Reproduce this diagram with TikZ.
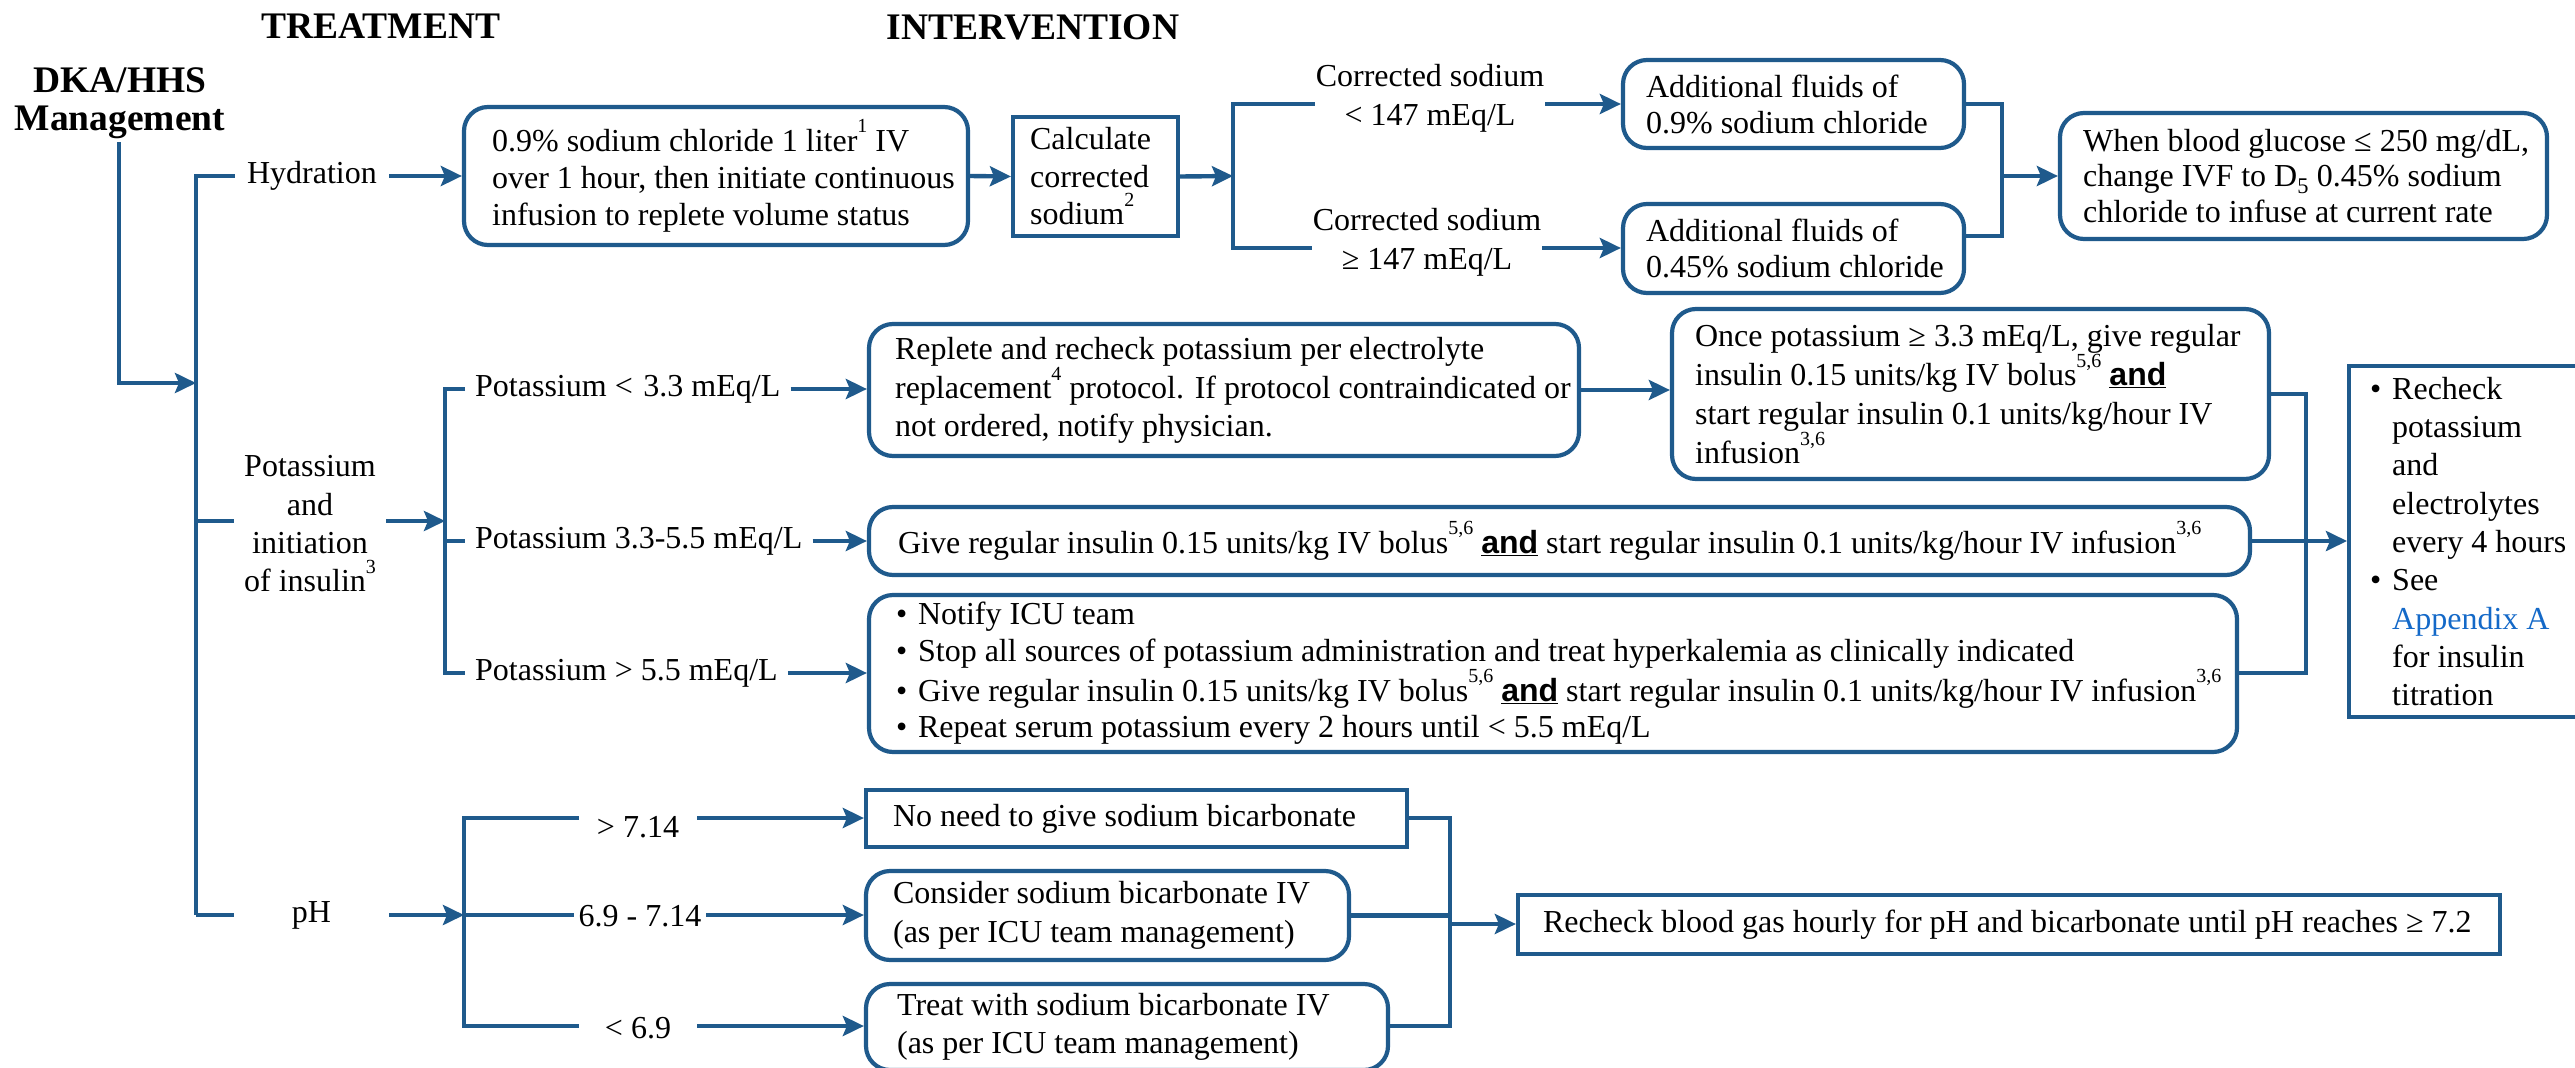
\documentclass[tikz,border=0pt]{standalone}
\usepackage{fontspec}
\setmainfont{Liberation Serif}
\setsansfont{Liberation Sans}
\usetikzlibrary{arrows.meta}
\definecolor{bl}{RGB}{31,90,140}
\definecolor{lk}{RGB}{20,105,200}
\newcommand\myfs{\fontsize{32}{37}\selectfont}
\newcommand\myhd{\fontsize{37.5}{38}\selectfont\bfseries}
\newcommand\myand{\underline{\sffamily\bfseries and}}
\newcommand\mysup[1]{\raisebox{0.58em}{\fontsize{20}{20}\selectfont #1}}
\newcommand\myb{\makebox[22pt][l]{•}}
\newcommand\myi{\hspace*{22pt}}
\begin{document}
\begin{tikzpicture}[x=1pt,y=-1pt,
 ln/.style={draw=bl,line width=4.4pt},
 arr/.style={draw=bl,line width=4.4pt,-{Stealth[length=21pt,width=20pt,inset=4pt]}},
 rbox/.style={draw=bl,line width=4.2pt,rounded corners=24pt,fill=white,inner sep=0pt},
 sbox/.style={draw=bl,line width=4.2pt,fill=white,inner sep=0pt},
 txt/.style={font=\myfs,inner sep=0pt,align=left,anchor=west},
 lbl/.style={font=\myfs,inner ysep=0pt,inner xsep=12pt,align=center},
 head/.style={font=\myhd,inner sep=0pt,align=center}]
\useasboundingbox (0,0) rectangle (2575,1068);
\begin{scope}
\clip (0,0) rectangle (2575,1068);
% headings
\node[head] (hT) at (381,26) {TREATMENT};
\node[head] (hI) at (1033,27) {INTERVENTION};
\node[head] (mg) at (120,103) {DKA/HHS\\Management};
% trunk
\coordinate (m0) at (119,142);
\coordinate (m1) at (196,383);
\coordinate (t1) at (196,176);
\coordinate (t2) at (196,521);
\coordinate (t3) at (196,915);
\draw[arr] (m0) |- (m1);
% ---------- hydration
\node[lbl] (lHyd) at (312,176) {Hydration};
\node[rbox,minimum width=504pt,minimum height=138pt] (hyd) at (716,176) {};
\node[txt] (thyd) at ([xshift=30pt]hyd.west) {0.9\% sodium chloride 1 liter\mysup{1} IV\\over 1 hour, then initiate continuous\\infusion to replete volume status};
\node[sbox,minimum width=165pt,minimum height=119pt] (calc) at (1095.5,176.5) {};
\node[txt,font={\fontsize{32}{37.5}\selectfont}] (tcalc) at ([xshift=19pt]calc.west) {Calculate\\corrected\\sodium\mysup{2}};
\coordinate (b1) at (1233,176);
\coordinate (b1t) at (1233,104);
\coordinate (b1b) at (1233,248);
\node[lbl,inner xsep=1pt,font={\fontsize{32}{39}\selectfont}] (lNa1) at (1430,98.5) {Corrected sodium\\< 147 mEq/L};
\node[lbl,inner xsep=1pt,font={\fontsize{32}{39}\selectfont}] (lNa2) at (1427,242) {Corrected sodium\\≥ 147 mEq/L};
\node[rbox,minimum width=341pt,minimum height=88pt] (s1) at (1793.5,104) {};
\node[txt,font={\fontsize{32}{36}\selectfont}] (ts1) at ([xshift=25pt]s1.west) {Additional fluids of\\0.9\% sodium chloride};
\node[rbox,minimum width=341pt,minimum height=89pt] (s2) at (1793.5,248.5) {};
\node[txt,font={\fontsize{32}{36}\selectfont}] (ts2) at ([xshift=25pt]s2.west) {Additional fluids of\\0.45\% sodium chloride};
\coordinate (j1) at (2002,176);
\coordinate (j1t) at (2002,104);
\coordinate (j1b) at (2002,236);
\node[rbox,minimum width=487pt,minimum height=126pt] (g) at (2303.5,176) {};
\node[txt,font={\fontsize{32}{35.5}\selectfont}] (tg) at ([xshift=25pt]g.west) {When blood glucose ≤ 250 mg/dL,\\change IVF to D\textsubscript{5} 0.45\% sodium\\chloride to infuse at current rate};
\draw[ln] (lHyd.west) -- (t1) -- (t3);
\draw[arr] (lHyd.east) -- (hyd.west);
\draw[arr] (hyd.east) -- (calc.west);
\draw[arr] (calc.east) -- (b1);
\draw[ln] (lNa1.west |- b1t) -- (b1t) -- (b1b) -- (lNa2.west |- b1b);
\draw[arr] (lNa1.east |- b1t) -- (s1.west);
\draw[arr] (lNa2.east |- b1b) -- (s2.west |- b1b);
\draw[ln] (s1.east) -- (j1t) -- (j1b) -- (s2.east |- j1b);
\draw[arr] (j1) -- (g.west);
% ---------- potassium
\node[lbl,inner xsep=10pt,font={\fontsize{32}{38.3}\selectfont}] (lK) at (310,524) {Potassium\\and\\initiation\\of insulin\mysup{3}};
\coordinate (b2) at (445,521);
\coordinate (b2t) at (445,389);
\coordinate (b2m) at (445,541);
\coordinate (b2b) at (445,673);
\node[lbl,inner xsep=10pt,anchor=west] (lK1) at (465,389) {Potassium <\,\,3.3 mEq/L};
\node[lbl,inner xsep=10pt,anchor=west] (lK2) at (465,541) {Potassium 3.3-5.5 mEq/L};
\node[lbl,inner xsep=10pt,anchor=west] (lK3) at (465,673) {Potassium > 5.5 mEq/L};
\node[rbox,minimum width=710pt,minimum height=132pt] (k1) at (1224,390) {};
\node[txt,font={\fontsize{32}{37.5}\selectfont}] (tk1) at ([xshift=28pt]k1.west) {Replete and recheck potassium per electrolyte\\replacement\mysup{4} protocol. If protocol contraindicated or\\not ordered, notify physician.};
\node[rbox,minimum width=597pt,minimum height=170pt] (k4) at (1970.5,394) {};
\node[txt,font={\fontsize{32}{38.3}\selectfont}] (tk4) at ([xshift=25pt]k4.west) {Once potassium ≥ 3.3 mEq/L, give regular\\insulin 0.15 units/kg IV bolus\mysup{5,6} \myand\\start regular insulin 0.1 units/kg/hour IV\\infusion\mysup{3,6}};
\node[rbox,minimum width=1381pt,minimum height=68pt] (k2) at (1559.5,541) {};
\node[txt] (tk2) at ([xshift=31pt]k2.west) {Give regular insulin 0.15 units/kg IV bolus\mysup{5,6} \myand{} start regular insulin 0.1 units/kg/hour IV infusion\mysup{3,6}};
\node[rbox,minimum width=1368pt,minimum height=157pt] (k3) at (1553,673.5) {};
\node[txt,font={\fontsize{32}{36.7}\selectfont}] (tk3) at ([xshift=29pt]k3.west) {\myb Notify ICU team\\\myb Stop all sources of potassium administration and treat hyperkalemia as clinically indicated\\\myb Give regular insulin 0.15 units/kg IV bolus\mysup{5,6} \myand{} start regular insulin 0.1 units/kg/hour IV infusion\mysup{3,6}\\\myb Repeat serum potassium every 2 hours until < 5.5 mEq/L};
\node[sbox,minimum width=300pt,minimum height=351pt,anchor=west] (R) at (2347,541.5) {};
\node[txt,font={\fontsize{32}{38.3}\selectfont}] (tR) at ([xshift=23pt]R.west) {\myb Recheck\\\myi potassium\\\myi and\\\myi electrolytes\\\myi every 4 hours\\\myb See\\\myi \textcolor{lk}{Appendix A}\\\myi for insulin\\\myi titration};
\coordinate (j2t) at (2306,394);
\coordinate (j2b) at (2306,673);
\draw[ln] (t2) -- (lK.west |- t2);
\draw[arr] (lK.east |- b2) -- (b2);
\draw[ln] (lK1.west) -- (b2t) -- (b2b) -- (lK3.west);
\draw[ln] (b2m) -- (lK2.west);
\draw[arr] (lK1.east) -- (k1.west |- lK1.east);
\draw[arr] (lK2.east) -- (k2.west);
\draw[arr] (lK3.east) -- (k3.west |- lK3.east);
\draw[arr] (k1.east) -- (k4.west |- k1.east);
\draw[ln] (k4.east) -- (j2t) -- (j2b) -- (k3.east |- j2b);
\draw[arr] (k2.east) -- (R.west |- k2.east);
% ---------- pH
\node[lbl,minimum width=155pt,inner xsep=0pt] (lpH) at (311.5,915) {pH};
\coordinate (b3) at (464,915);
\coordinate (b3t) at (464,818);
\coordinate (b3b) at (464,1026);
\node[lbl,minimum width=118pt,inner xsep=0pt] (lP1) at (638,827) {> 7.14};
\node[lbl,minimum width=132pt,inner xsep=0pt] (lP2) at (640,916.5) {6.9 - 7.14};
\node[lbl,minimum width=118pt,inner xsep=0pt] (lP3) at (638,1028) {< 6.9};
\node[sbox,minimum width=541pt,minimum height=57pt] (p1) at (1136.5,818.5) {};
\node[txt] (tp1) at ([xshift=29pt]p1.west) {No need to give sodium bicarbonate};
\node[rbox,minimum width=483pt,minimum height=89pt] (p2) at (1107.5,915.5) {};
\node[txt,font={\fontsize{32}{39}\selectfont}] (tp2) at ([xshift=29pt]p2.west) {Consider sodium bicarbonate IV\\(as per ICU team management)};
\node[rbox,minimum width=522pt,minimum height=86pt] (p3) at (1127,1027) {};
\node[txt,font={\fontsize{32}{38}\selectfont}] (tp3) at ([xshift=33pt]p3.west) {Treat with sodium bicarbonate IV\\(as per ICU team management)};
\coordinate (j3t) at (1450,818);
\coordinate (j3m) at (1450,924);
\coordinate (j3b) at (1450,1026);
\node[sbox,minimum width=982pt,minimum height=59pt] (B) at (2009,924.5) {};
\node[txt] (tB) at ([xshift=27pt]B.west) {Recheck blood gas hourly for pH and bicarbonate until pH reaches ≥ 7.2};
\draw[ln] (t3) -- (lpH.west);
\draw[arr] (lpH.east) -- (b3);
\draw[ln] (lP1.west |- b3t) -- (b3t) -- (b3b) -- (lP3.west |- b3b);
\draw[ln] (b3) -- (lP2.west |- b3);
\draw[arr] (lP1.east |- b3t) -- (p1.west |- b3t);
\draw[arr] (lP2.east |- b3) -- (p2.west |- b3);
\draw[arr] (lP3.east |- b3b) -- (p3.west |- b3b);
\draw[ln] (p1.east |- j3t) -- (j3t) -- (j3b) -- (p3.east |- j3b);
\draw[ln] (p2.east) -- (p2.east -| j3t);
\draw[arr] (j3m) -- (B.west |- j3m);
\end{scope}
\end{tikzpicture}
\end{document}
